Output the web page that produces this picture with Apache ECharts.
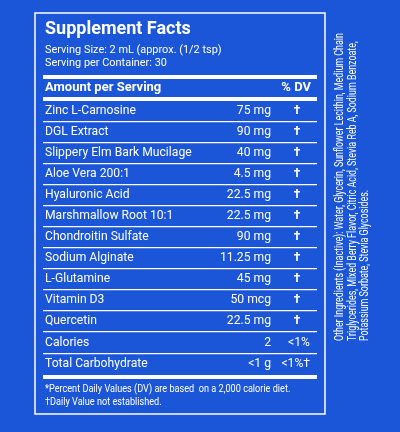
<!DOCTYPE html>
<html><head><meta charset="utf-8">
<script src="https://cdn.jsdelivr.net/npm/echarts@6/dist/echarts.min.js"></script>
<style>html,body{margin:0;background:#1b56d8}#c{width:400px;height:432px}</style>
</head><body><div id="c"></div>
<script>
const names = ['Zinc L-Carnosine','DGL Extract','Slippery Elm Bark Mucilage','Aloe Vera 200:1','Hyaluronic Acid',
  'Marshmallow Root 10:1','Chondroitin Sulfate','Sodium Alginate','L-Glutamine','Vitamin D3','Quercetin','Calories','Total Carbohydrate'];
const amounts = ['75 mg','90 mg','40 mg','4.5 mg','22.5 mg','22.5 mg','90 mg','11.25 mg','45 mg','50 mcg','22.5 mg','2','<1 g'];
const dvs = ['†','†','†','†','†','†','†','†','†','†','†','<1%','<1%†'];
const otherLines = ['Other Ingredients (Inactive): Water, Glycerin, Sunflower Lecithin, Medium Chain',
  'Triglycerides, Mixed Berry Flavor, Citric Acid, Stevia Reb A, Sodium Benzoate,',
  'Potassium Sorbate, Stevia Glycosides.'];

const F = 'Roboto,sans-serif';
const W = '#ffffff';
const g = [];
function txt(x, y, s, font, opt) {
  opt = opt || {};
  g.push(Object.assign({type:'text', x:x, y:y, style:Object.assign({text:s, fill:W, font:font + ' ' + F,
    textVerticalAlign:'middle', textAlign:'left'}, opt.style)}, opt.el));
}
function rect(x, y, w, h) { g.push({type:'rect', shape:{x:x,y:y,width:w,height:h}, style:{fill:W}}); }

g.push({type:'rect', shape:{x:35,y:13,width:290,height:401}, style:{fill:'none', stroke:W, lineWidth:1.5}});
txt(45, 29, 'Supplement Facts', 'bold 18px');
txt(45, 50, 'Serving Size: 2 mL (approx. (1/2 tsp)', '11.5px', {el:{scaleX:0.95}});
txt(45, 63, 'Serving per Container: 30', '11.5px', {el:{scaleX:0.95}});
rect(43, 75, 274, 4);
txt(45, 88, 'Amount per Serving', 'bold 13px');
txt(311, 88, '% DV', 'bold 13px', {style:{textAlign:'right'}});
rect(43, 97, 274, 4);
names.forEach(function (n, i) {
  const y = 111 + i * 21 + (i >= 11 ? 1 : 0);
  txt(45, y, n, '13.5px', {el:{scaleX:0.9}});
  txt(271, y, amounts[i], '13.5px', {style:{textAlign:'right'}, el:{scaleX:0.9}});
  txt(i >= 11 ? 310 : 297, y, dvs[i], (i >= 11 ? '' : 'bold ') + '13.5px',
    {style:{textAlign:i >= 11 ? 'right' : 'center'}, el:{scaleX:0.9}});
  if (i < names.length - 1) rect(43, y + 10, 274, 1.3);
});
rect(43, 375, 274, 4);
txt(45, 389, '*Percent Daily Values (DV) are based  on a 2,000 calorie diet.', '11px', {el:{scaleX:0.83}});
txt(45, 402, '†Daily Value not established.', '11px', {el:{scaleX:0.83}});
otherLines.forEach(function (s, i) {
  txt(340 + i * 12.5, 341, s, '12px', {el:{rotation:Math.PI / 2, scaleX:0.74}});
});

const chart = echarts.init(document.getElementById('c'));
chart.setOption({backgroundColor:'#1b56d8', graphic:{elements:g}});
</script></body></html>
